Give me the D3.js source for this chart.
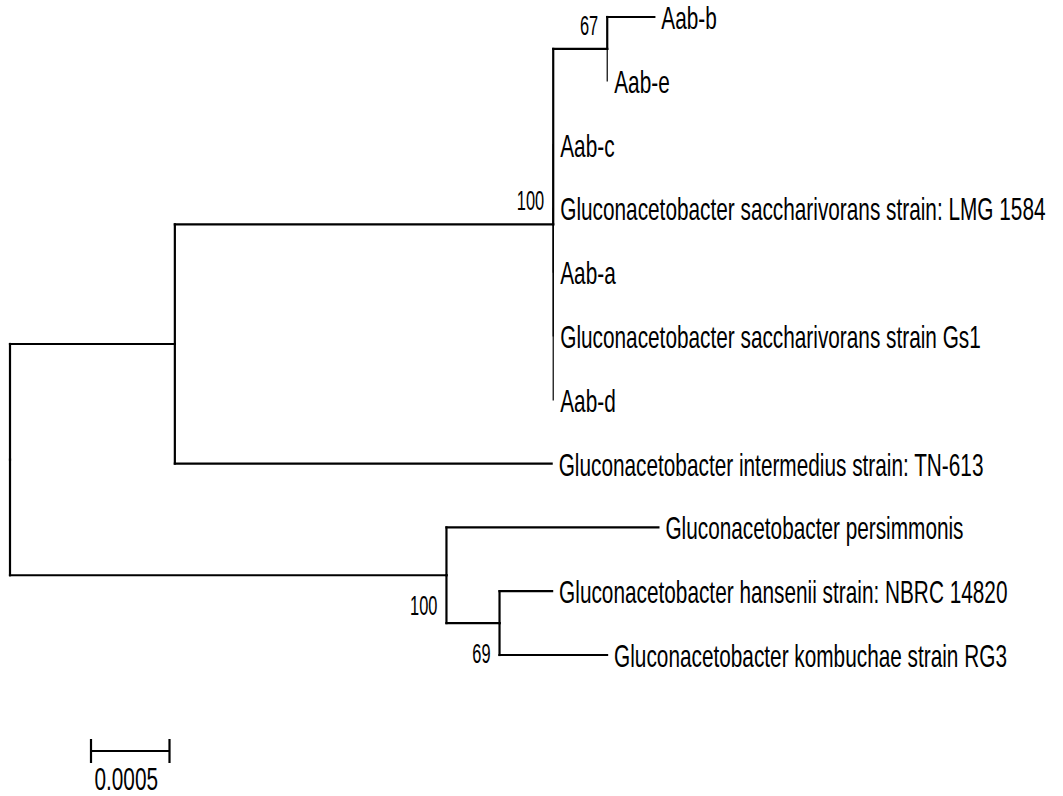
<!DOCTYPE html>
<html>
<head>
<meta charset="utf-8">
<script src="https://cdn.jsdelivr.net/npm/d3@7"></script>
<style>
  body { margin: 0; background: #fff; }
  svg { display: block; }
  text { font-family: "Liberation Sans", Arial, sans-serif; fill: #000; }
</style>
</head>
<body>
<svg></svg>
<script>
// leaves, top to bottom
const taxa = [
  "Aab-b",
  "Aab-e",
  "Aab-c",
  "Gluconacetobacter saccharivorans strain: LMG 1584",
  "Aab-a",
  "Gluconacetobacter saccharivorans strain Gs1",
  "Aab-d",
  "Gluconacetobacter intermedius strain: TN-613",
  "Gluconacetobacter persimmonis",
  "Gluconacetobacter hansenii strain: NBRC 14820",
  "Gluconacetobacter kombuchae strain RG3"
];
const taxonParents = ["n5", "n5", "n4", "n4", "n4", "n4", "n4", "n2", "n3", "n6", "n6"];
const taxonLengths = [0.0003, 0, 0, 0, 0, 0, 0, 0.0024, 0.00135, 0.000335, 0.000685];

// inner nodes
const innerNodes = ["n1", "n2", "n3", "n4", "n5", "n6"];
const innerParents = ["", "n1", "n1", "n2", "n4", "n3"];
const innerLengths = [0, 0.00105, 0.00278, 0.00241, 0.000344, 0.000338];
const innerSupport = [null, null, 100, 100, 67, 69];

const scaleBarValue = 0.0005;
const scaleBarLabel = "0.0005";

const width = 1063, height = 796;

const svg = d3.select("svg")
    .attr("width", width)
    .attr("height", height);

// build the table for stratify
let rows = innerNodes.map((id, i) => ({id: id, parent: innerParents[i], len: innerLengths[i], support: innerSupport[i]}));
taxa.forEach((t, i) => rows.push({id: t, parent: taxonParents[i], len: taxonLengths[i], support: null, leaf: i}));

let root = d3.stratify()
    .id(d => d.id)
    .parentId(d => d.parent || null)(rows);

// keep the leaf order of the picture
root.eachAfter(n => {
  n.order = n.children ? d3.min(n.children, c => c.order) : n.data.leaf;
});
root.sort((a, b) => a.order - b.order);

let x = d3.scaleLinear()
    .domain([0, 0.001])
    .range([10, 167]);
let y = d3.scalePoint()
    .domain(taxa)
    .range([17, 655]);

root.eachBefore(n => {
  n.dist = n.parent ? n.parent.dist + n.data.len : 0;
  n.px = x(n.dist);
});
root.eachAfter(n => {
  if (n.children) {
    n.py = (n.children[0].py + n.children[n.children.length - 1].py) / 2;
  } else {
    n.py = y(n.data.id);
  }
});

let g = svg.append("g");

// vertical connectors, one per child
root.descendants().filter(n => n.parent).forEach(n => {
  g.append("line")
      .attr("x1", n.parent.px).attr("x2", n.parent.px)
      .attr("y1", n.parent.py).attr("y2", n.py)
      .attr("stroke", "#000")
      .attr("stroke-width", n.data.len > 0 ? 2.2 : 1.2)
      .attr("stroke-linecap", "square");
  if (n.data.len > 0) {
    g.append("line")
        .attr("x1", n.parent.px).attr("x2", n.px)
        .attr("y1", n.py).attr("y2", n.py)
        .attr("stroke", "#000")
        .attr("stroke-width", 2.2)
        .attr("stroke-linecap", "square");
  }
});

// leaf labels
root.leaves().forEach(n => {
  g.append("text")
      .attr("transform", "translate(" + (n.px + 7) + "," + (n.py + 12) + ") scale(0.8,1.2)")
      .attr("font-size", 26)
      .text(n.data.id);
});

// bootstrap values, left of their own node
root.descendants().filter(n => n.data.support != null).forEach(n => {
  let first = n.parent.children[0] === n;
  let by = first ? n.py - 14 : n.py + 40;
  g.append("text")
      .attr("transform", "translate(" + (n.px - 9) + "," + by + ") scale(0.82,1.35)")
      .attr("font-size", 20)
      .attr("text-anchor", "end")
      .text(n.data.support);
});

// scale bar
let barY = 751, barX = 91;
let barW = x(scaleBarValue) - x(0);
let bar = svg.append("g");
bar.append("line")
    .attr("x1", barX).attr("x2", barX + barW)
    .attr("y1", barY).attr("y2", barY)
    .attr("stroke", "#000").attr("stroke-width", 2.2);
[barX, barX + barW].forEach(bx => {
  bar.append("line")
      .attr("x1", bx).attr("x2", bx)
      .attr("y1", barY - 12).attr("y2", barY + 12)
      .attr("stroke", "#000").attr("stroke-width", 2.2);
});
bar.append("text")
    .attr("transform", "translate(" + (barX + barW / 2 - 4) + "," + (barY + 39) + ") scale(0.8,1.2)")
    .attr("font-size", 26)
    .attr("text-anchor", "middle")
    .text(scaleBarLabel);
</script>
</body>
</html>
